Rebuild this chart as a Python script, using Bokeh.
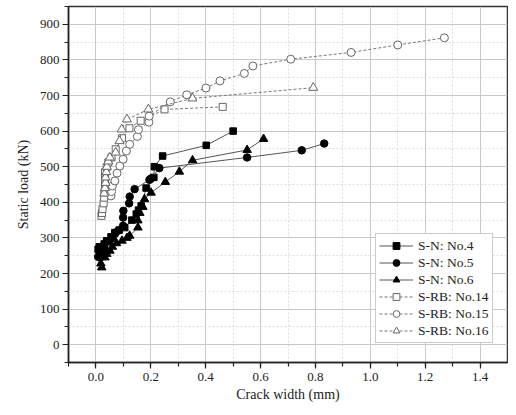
from bokeh.plotting import figure
from bokeh.models import (Range1d, SingleIntervalTicker, PrintfTickFormatter,
                          Legend, LegendItem)
from bokeh.embed import file_html
from bokeh.resources import INLINE

# ---------------- data ----------------
n4_x = [0.008, 0.012, 0.021, 0.030, 0.039, 0.055, 0.069, 0.085, 0.105, 0.131, 0.147, 0.155, 0.165, 0.183, 0.211, 0.213, 0.243, 0.402, 0.500]
n4_y = [268, 275, 271, 283, 292, 303, 315, 322, 329, 350, 367, 378, 390, 440, 470, 500, 530, 560, 600]

n5_x = [0.008, 0.014, 0.021, 0.030, 0.045, 0.060, 0.069, 0.081, 0.099, 0.099, 0.100, 0.121, 0.123, 0.141, 0.195, 0.201, 0.231, 0.551, 0.750, 0.832]
n5_y = [247, 245, 264, 275, 290, 300, 312, 320, 334, 357, 376, 397, 416, 437, 463, 467, 496, 526, 546, 565]

n6_x = [0.021, 0.018, 0.033, 0.040, 0.051, 0.060, 0.075, 0.095, 0.113, 0.123, 0.153, 0.153, 0.160, 0.171, 0.177, 0.201, 0.253, 0.304, 0.352, 0.551, 0.611]
n6_y = [217, 228, 245, 255, 264, 275, 285, 292, 300, 306, 329, 349, 370, 387, 409, 427, 457, 486, 518, 547, 578]

n14_x = [0.020, 0.022, 0.024, 0.028, 0.030, 0.031, 0.033, 0.033, 0.033, 0.033, 0.039, 0.045, 0.057, 0.072, 0.095, 0.122, 0.163, 0.250, 0.462]
n14_y = [362, 370, 381, 397, 413, 428, 442, 456, 470, 484, 498, 512, 526, 549, 580, 608, 629, 661, 668]

n15_x = [0.055, 0.057, 0.060, 0.069, 0.077, 0.087, 0.099, 0.111, 0.123, 0.151, 0.155, 0.193, 0.194, 0.271, 0.331, 0.401, 0.452, 0.541, 0.572, 0.710, 0.930, 1.100, 1.270]
n15_y = [418, 430, 446, 460, 482, 502, 521, 544, 563, 585, 604, 625, 642, 682, 702, 721, 741, 762, 783, 802, 821, 842, 862]

n16_x = [0.030, 0.033, 0.035, 0.035, 0.038, 0.040, 0.045, 0.051, 0.072, 0.086, 0.094, 0.113, 0.191, 0.352, 0.792]
n16_y = [425, 440, 455, 470, 485, 500, 515, 526, 540, 572, 605, 633, 661, 692, 722]

x_ticks_interval = 0.2
y_ticks_interval = 100

FONT = "'Liberation Serif', 'Times New Roman', serif"

p = figure(width=508, height=407, output_backend="svg", toolbar_location=None,
           x_range=Range1d(-0.1, 1.5), y_range=Range1d(-50, 950),
           min_border_left=68, min_border_right=1, min_border_top=6,
           min_border_bottom=45, background_fill_color="white",
           border_fill_color="white")

p.outline_line_color = "#333333"
p.outline_line_width = 1.5

p.xaxis.ticker = SingleIntervalTicker(interval=x_ticks_interval, num_minor_ticks=2)
p.yaxis.ticker = SingleIntervalTicker(interval=y_ticks_interval, num_minor_ticks=2)
p.xaxis.formatter = PrintfTickFormatter(format="%.1f")

for ax in (p.xaxis[0], p.yaxis[0]):
    ax.axis_line_color = "#222222"
    ax.axis_line_width = 1.5
    ax.major_tick_line_color = "#222222"
    ax.minor_tick_line_color = "#222222"
    ax.major_tick_line_width = 1.2
    ax.minor_tick_line_width = 1.2
    ax.major_tick_out = 6
    ax.major_tick_in = 0
    ax.minor_tick_out = 4
    ax.minor_tick_in = 0
    ax.major_label_text_font = FONT
    ax.major_label_text_font_size = "13px"
    ax.major_label_text_color = "#222222"
    ax.axis_label_text_font = FONT
    ax.axis_label_text_font_size = "14px"
    ax.axis_label_text_font_style = "normal"
    ax.axis_label_text_color = "#222222"

p.xaxis.axis_label = "Crack width (mm)"
p.yaxis.axis_label = "Static load (kN)"
p.xaxis.major_label_standoff = 4
p.xaxis.axis_label_standoff = 3
p.yaxis.major_label_standoff = 3
p.yaxis.axis_label_standoff = 6

for g in (p.xgrid[0], p.ygrid[0]):
    g.grid_line_color = "#c8c8c8"
    g.grid_line_width = 1
    g.minor_grid_line_color = "#dcdcdc"
    g.minor_grid_line_dash = "2 2"
    g.minor_grid_line_width = 1

items = []

def solid(xs, ys, marker, size, label):
    lr = p.line(xs, ys, line_color="#555555", line_width=1)
    sr = p.scatter(xs, ys, marker=marker, size=size, fill_color="black",
                   line_color="black", line_width=1)
    items.append(LegendItem(label=label, renderers=[lr, sr]))

def hollow(xs, ys, marker, size, label):
    lr = p.line(xs, ys, line_color="#777777", line_width=1, line_dash="3 2")
    sr = p.scatter(xs, ys, marker=marker, size=size, fill_color="white",
                   line_color="#666666", line_width=1)
    items.append(LegendItem(label=label, renderers=[lr, sr]))

solid(n4_x, n4_y, "square", 6.5, "S-N: No.4")
solid(n5_x, n5_y, "circle", 7.5, "S-N: No.5")
solid(n6_x, n6_y, "triangle", 8.5, "S-N: No.6")
hollow(n14_x, n14_y, "square", 7, "S-RB: No.14")
hollow(n15_x, n15_y, "circle", 8, "S-RB: No.15")
hollow(n16_x, n16_y, "triangle", 9, "S-RB: No.16")

legend = Legend(items=items, location=(307, 19), orientation="vertical",
                glyph_width=34, glyph_height=17, label_height=17, spacing=0,
                label_standoff=5, padding=3, margin=0,
                label_text_font=FONT, label_text_font_size="13.5px",
                label_text_color="#222222",
                border_line_color="#999999", border_line_width=1,
                background_fill_color="white", background_fill_alpha=1)
p.add_layout(legend, "center")

open("out.html", "w").write(file_html(p, INLINE))
